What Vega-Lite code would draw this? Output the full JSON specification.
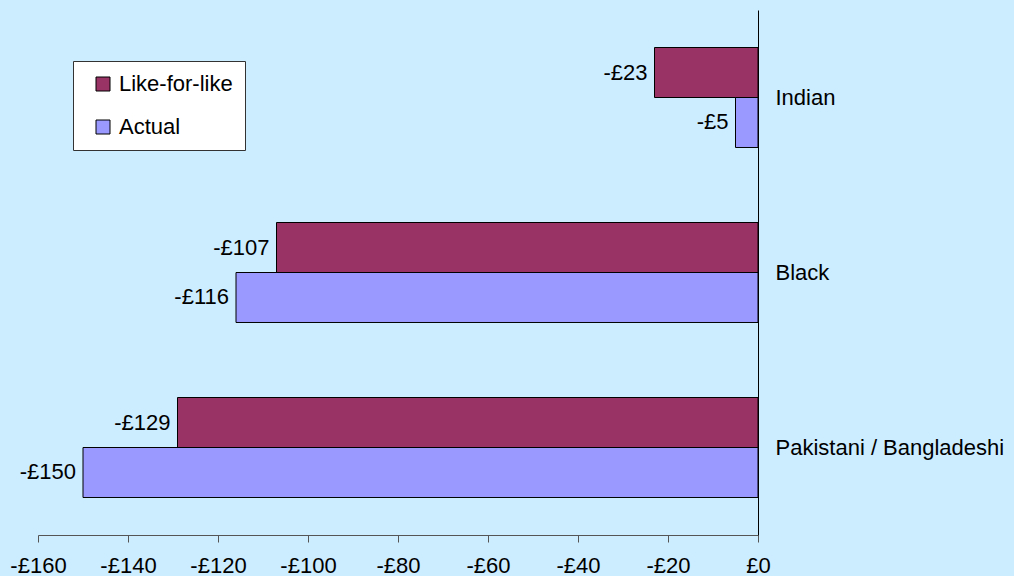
{
  "$schema": "https://vega.github.io/schema/vega-lite/v6.json",
  "autosize": {"type": "none"},
  "padding": {"left": 38, "top": 10, "right": 256, "bottom": 41},
  "width": 720,
  "height": 525,
  "background": "#CCECFF",
  "config": {
    "view": {"stroke": null},
    "font": "Liberation Sans",
    "axis": {"labelFont": "Liberation Sans", "labelFontSize": 22, "labelColor": "black", "grid": false, "title": null}
  },
  "data": {
    "values": [
      {"group": "Indian", "series": "Like-for-like", "value": -23, "label": "-£23"},
      {"group": "Indian", "series": "Actual", "value": -5, "label": "-£5"},
      {"group": "Black", "series": "Like-for-like", "value": -107, "label": "-£107"},
      {"group": "Black", "series": "Actual", "value": -116, "label": "-£116"},
      {"group": "Pakistani / Bangladeshi", "series": "Like-for-like", "value": -129, "label": "-£129"},
      {"group": "Pakistani / Bangladeshi", "series": "Actual", "value": -150, "label": "-£150"}
    ]
  },
  "encoding": {
    "y": {
      "field": "group", "type": "nominal",
      "sort": ["Indian", "Black", "Pakistani / Bangladeshi"],
      "scale": {"paddingInner": 0.4286, "paddingOuter": 0.2143},
      "axis": {"orient": "right", "ticks": false, "labelPadding": 17, "labelLimit": 0, "domainColor": "black", "domainWidth": 1, "labelAlign": "left", "labelBaseline": "middle"}
    },
    "yOffset": {
      "field": "series", "type": "nominal",
      "sort": ["Like-for-like", "Actual"],
      "scale": {"paddingInner": 0, "paddingOuter": 0}
    },
    "x": {
      "field": "value", "type": "quantitative",
      "scale": {"domain": [-160, 0], "nice": false, "zero": false},
      "axis": {
        "values": [-160, -140, -120, -100, -80, -60, -40, -20, 0],
        "labelExpr": "datum.value < 0 ? '-£' + abs(datum.value) : '£' + datum.value",
        "domainColor": "#555555", "tickColor": "#555555", "tickSize": 7, "labelPadding": 13, "labelBaseline": "top", "labelFlush": false
      }
    }
  },
  "layer": [
    {
      "mark": {"type": "bar", "stroke": "black", "strokeWidth": 1},
      "encoding": {
        "color": {
          "field": "series", "type": "nominal",
          "scale": {"domain": ["Like-for-like", "Actual"], "range": ["#993366", "#9999FF"]},
          "legend": {
            "orient": "none", "legendX": 35, "legendY": 51, "title": null,
            "fillColor": "white", "strokeColor": "#333333", "padding": 12,
            "symbolType": "square", "symbolSize": 196, "symbolStrokeColor": "black", "symbolStrokeWidth": 1,
            "symbolOffset": 7,
            "labelFont": "Liberation Sans", "labelFontSize": 22, "labelColor": "black", "labelOffset": 5,
            "rowPadding": 21
          }
        }
      }
    },
    {
      "mark": {"type": "text", "align": "right", "baseline": "middle", "dx": -7, "fontSize": 22, "font": "Liberation Sans", "color": "black"},
      "encoding": {"text": {"field": "label"}}
    }
  ]
}
